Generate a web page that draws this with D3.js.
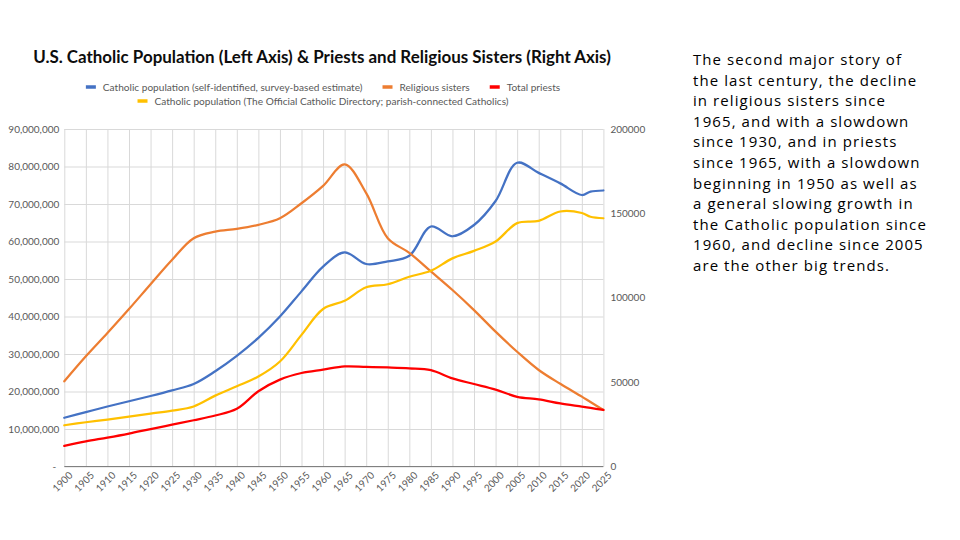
<!DOCTYPE html>
<html>
<head>
<meta charset="utf-8">
<script src="https://cdn.jsdelivr.net/npm/d3@7"></script>
<style>
  body { margin: 0; background: white; }
  svg { display: block; }
</style>
</head>
<body>
<div id="chart"></div>
<script>
// values (5-year steps, plus one extra point at 2022)
const years = [1900, 1905, 1910, 1915, 1920, 1925, 1930, 1935, 1940, 1945, 1950, 1955, 1960,
    1965, 1970, 1975, 1980, 1985, 1990, 1995, 2000, 2005, 2010, 2015, 2020, 2022, 2025];

// left axis, persons
const selfIdentified = [13.0, 14.5, 16.0, 17.4, 18.8, 20.3, 22.0, 25.4, 29.5, 34.3, 40.0, 46.7, 53.3,
    57.1, 54.0, 54.7, 56.2, 64.0, 61.4, 64.4, 70.8, 81.0, 78.3, 75.5, 72.4, 73.3, 73.6].map(v => v * 1e6);
const officialDirectory = [11.0, 11.8, 12.5, 13.3, 14.1, 14.9, 16.0, 18.9, 21.4, 24.0, 28.0, 35.1, 42.0,
    44.2, 47.8, 48.6, 50.6, 52.2, 55.5, 57.5, 60.0, 64.9, 65.5, 68.0, 67.6, 66.6, 66.2].map(v => v * 1e6);

// right axis
const religiousSisters = [50500, 65300, 79100, 93300, 108000, 122500, 135300, 139200, 140800, 143200,
    147100, 156000, 166300, 179000, 162000, 135300, 126600, 115600, 104600, 92700, 79900, 68000,
    57200, 49000, 41400, 38200, 33500];
const totalPriests = [12200, 14900, 17100, 19500, 22200, 24800, 27400, 30200, 34200, 44600, 51500,
    55400, 57400, 59300, 59000, 58700, 58200, 57100, 52200, 48900, 45600, 41300, 39800, 37400,
    35500, 34700, 33500];

const xTicks = d3.range(1900, 2026, 5);
const leftTicks = d3.range(0, 90000001, 10000000);
const rightTicks = [0, 50000, 100000, 150000, 200000];

const titleText = "U.S. Catholic Population (Left Axis) & Priests and Religious Sisters (Right Axis)";

const series = [
    { name: "Catholic population (self-identified, survey-based estimate)", values: selfIdentified, axis: "left", color: "#4472C4" },
    { name: "Religious sisters", values: religiousSisters, axis: "right", color: "#ED7D31" },
    { name: "Total priests", values: totalPriests, axis: "right", color: "#FF0000" },
    { name: "Catholic population (The Official Catholic Directory; parish-connected Catholics)", values: officialDirectory, axis: "left", color: "#FFC000" }
];

const sideText = [
    "The second major story of",
    "the last century, the decline",
    "in religious sisters since",
    "1965, and with a slowdown",
    "since 1930, and in priests",
    "since 1965, with a slowdown",
    "beginning in 1950 as well as",
    "a general slowing growth in",
    "the Catholic population since",
    "1960, and decline since 2005",
    "are the other big trends."
];

const width = 960, height = 540;
const plot = { left: 64.3, right: 603.4, top: 129, bottom: 466.5 };
const chartFont = "Lato, 'Open Sans', sans-serif";
const labelColor = "#595959";

const svg = d3.select('#chart').append('svg')
    .attr('width', width)
    .attr('height', height);

const x = d3.scaleLinear().domain([1900, 2025]).range([plot.left, plot.right]);
const yLeft = d3.scaleLinear().domain([0, 90000000]).range([plot.bottom, plot.top]);
const yRight = d3.scaleLinear().domain([0, 200000]).range([plot.bottom, plot.top]);

// shrink/grow a text so it fills a given width
function fitWidth(sel, target) {
    const w = sel.node().getComputedTextLength();
    const fs = parseFloat(sel.attr('font-size'));
    sel.attr('font-size', fs * target / w);
    return fs * target / w;
}

// horizontal grid + left labels
const gLeft = svg.append('g')
    .attr('transform', `translate(${plot.left},0)`)
    .call(d3.axisLeft(yLeft)
        .tickValues(leftTicks)
        .tickSize(-(plot.right - plot.left))
        .tickPadding(5)
        .tickFormat(d => d === 0 ? "-" : d3.format(",")(d)));
gLeft.select('.domain').remove();
gLeft.selectAll('.tick line').attr('stroke', '#d9d9d9');
gLeft.selectAll('.tick text')
    .attr('fill', labelColor)
    .attr('font-family', chartFont)
    .attr('font-size', '10px');
gLeft.selectAll('.tick text').filter(d => d === 0).attr('dx', -3);

// vertical grid + x labels
const gX = svg.append('g')
    .attr('transform', `translate(0,${plot.bottom})`)
    .call(d3.axisBottom(x)
        .tickValues(xTicks)
        .tickSize(-(plot.bottom - plot.top))
        .tickFormat(d3.format("d")));
gX.select('.domain').remove();
gX.selectAll('.tick line').attr('stroke', '#d9d9d9');
gX.selectAll('.tick text')
    .attr('fill', labelColor)
    .attr('font-family', chartFont)
    .attr('font-size', '10px')
    .attr('text-anchor', 'end')
    .attr('transform', 'translate(6,7) rotate(-45)')
    .attr('y', 0)
    .attr('dy', '0.35em');

// bottom axis line
svg.append('line')
    .attr('x1', plot.left).attr('x2', plot.right)
    .attr('y1', plot.bottom).attr('y2', plot.bottom)
    .attr('stroke', '#808080')
    .attr('stroke-width', 1);

// right labels
const gRight = svg.append('g')
    .attr('transform', `translate(${plot.right},0)`)
    .call(d3.axisRight(yRight)
        .tickValues(rightTicks)
        .tickSize(0)
        .tickPadding(7)
        .tickFormat(d3.format("d")));
gRight.select('.domain').remove();
gRight.selectAll('.tick text')
    .attr('fill', labelColor)
    .attr('font-family', chartFont)
    .attr('font-size', '10px');

// lines
series.forEach(s => {
    const y = s.axis === "left" ? yLeft : yRight;
    const line = d3.line()
        .x((d, i) => x(years[i]))
        .y(d => y(d))
        .curve(d3.curveCatmullRom.alpha(0.5));
    svg.append('path')
        .datum(s.values)
        .attr('fill', 'none')
        .attr('stroke', s.color)
        .attr('stroke-width', 2.25)
        .attr('stroke-linejoin', 'round')
        .attr('stroke-linecap', 'round')
        .attr('d', line);
});

// title
const title = svg.append('text')
    .attr('x', 322)
    .attr('y', 63)
    .attr('text-anchor', 'middle')
    .attr('font-family', chartFont)
    .attr('font-weight', 'bold')
    .attr('font-size', 17)
    .attr('fill', '#0d0d0d')
    .text(titleText);
fitWidth(title, 578);

// legend, two centred rows
const legendRows = [[series[0], series[1], series[2]], [series[3]]];
const legendY = [87, 101];
let legendSize = 9;
{
    const probe = svg.append('text')
        .attr('font-family', chartFont)
        .attr('font-size', 9)
        .text(series[0].name);
    legendSize = fitWidth(probe, 260);
    probe.remove();
}
legendRows.forEach((row, r) => {
    const g = svg.append('g');
    let cx = 0;
    row.forEach((s, i) => {
        const item = g.append('g').attr('transform', `translate(${cx},0)`);
        item.append('line')
            .attr('x1', 0).attr('x2', 10)
            .attr('y1', 0).attr('y2', 0)
            .attr('stroke', s.color)
            .attr('stroke-width', 3.5);
        const t = item.append('text')
            .attr('x', 17)
            .attr('dy', '0.35em')
            .attr('font-family', chartFont)
            .attr('font-size', legendSize)
            .attr('fill', labelColor)
            .text(s.name);
        cx += 17 + t.node().getComputedTextLength() + 20;
    });
    const total = cx - 20;
    g.attr('transform', `translate(${323 - total / 2},${legendY[r]})`);
});

// commentary on the right; font kept small enough that line boxes don't collide,
// letter spacing brings the width back to what the picture shows
const side = svg.append('g')
    .attr('font-family', "'Open Sans', sans-serif")
    .attr('font-size', '15px')
    .attr('fill', '#000');
const sideLines = side.selectAll('text')
    .data(sideText)
    .enter().append('text')
    .attr('x', 693)
    .attr('y', (d, i) => 65 + i * 20.6)
    .text(d => d);
{
    const first = sideLines.node();
    const spacing = (208 - first.getComputedTextLength()) / (sideText[0].length - 1);
    side.attr('letter-spacing', spacing.toFixed(2) + 'px');
}
</script>
</body>
</html>
